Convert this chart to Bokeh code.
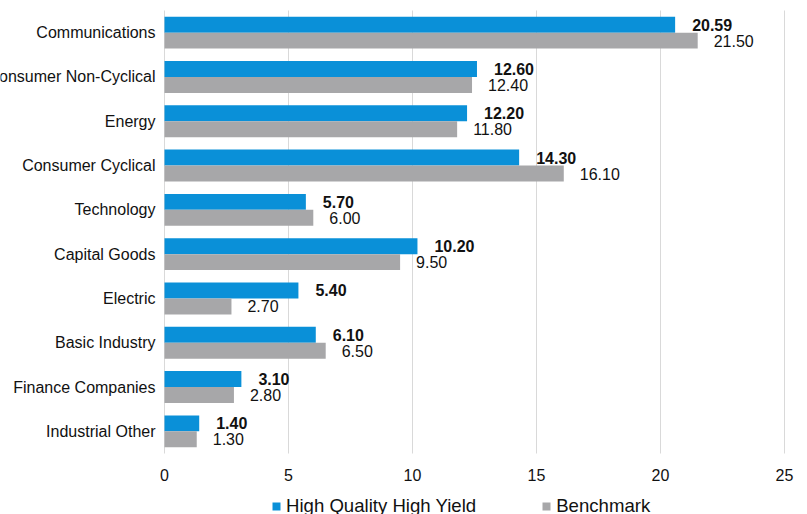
from bokeh.plotting import figure
from bokeh.models import (ColumnDataSource, Range1d, FixedTicker, Legend, LegendItem)
from bokeh.core.properties import value
from bokeh.transform import dodge
from bokeh.embed import file_html
from bokeh.resources import INLINE

categories = ["Communications", "Consumer Non-Cyclical", "Energy", "Consumer Cyclical",
              "Technology", "Capital Goods", "Electric", "Basic Industry",
              "Finance Companies", "Industrial Other"]
hq_values = [20.59, 12.60, 12.20, 14.30, 5.70, 10.20, 5.40, 6.10, 3.10, 1.40]
bench_values = [21.50, 12.40, 11.80, 16.10, 6.00, 9.50, 2.70, 6.50, 2.80, 1.30]
x_ticks = [0, 5, 10, 15, 20, 25]
series_names = ["High Quality High Yield", "Benchmark"]

BLUE = "#0A90D8"
GREY = "#A7A7A9"
GRID = "#D9D9D9"
FONT = "Liberation Sans"
TXT = "#111111"

W, H = 807, 514

n = len(categories)
ypos = [n - 1 - i for i in range(n)]  # first category at the top

source = ColumnDataSource(dict(
    cat=categories,
    y=ypos,
    hq=hq_values,
    bench=bench_values,
    hq_lbl=[f"{v:.2f}" for v in hq_values],
    bench_lbl=[f"{v:.2f}" for v in bench_values],
))

# screen layout of the plotting band (pixels)
band_left, band_right, band_top, band_bottom = 164, 784, 10, 453
xmax = x_ticks[-1]
px_x = (band_right - band_left) / xmax
px_y = (band_bottom - band_top) / n
x_range = Range1d(-band_left / px_x, xmax + (W - band_right) / px_x)
y_lo, y_hi = -0.5, n - 0.5
y_range = Range1d(y_lo - (H - band_bottom) / px_y, y_hi + band_top / px_y)

p = figure(width=W, height=H, output_backend="svg", toolbar_location=None,
           x_range=x_range, y_range=y_range,
           min_border_left=0, min_border_right=0, min_border_top=0, min_border_bottom=0)
p.outline_line_color = None
p.background_fill_color = "white"
p.border_fill_color = "white"

# vertical grid lines limited to the band
grid = p.xgrid[0]
grid.ticker = FixedTicker(ticks=x_ticks)
if "cross_bounds" in grid.properties():
    grid.cross_bounds = (y_lo, y_hi)
    grid.grid_line_color = GRID
    grid.grid_line_width = 1
else:
    grid.grid_line_color = None
    p.segment(x0=x_ticks, x1=x_ticks, y0=[y_lo] * len(x_ticks), y1=[y_hi] * len(x_ticks),
              line_color=GRID, line_width=1)
p.ygrid.grid_line_color = None

r_hq = p.hbar(y=dodge("y", 0.18), right="hq", left=0, height=0.36,
              fill_color=BLUE, line_color=None, source=source)
r_b = p.hbar(y=dodge("y", -0.18), right="bench", left=0, height=0.36,
             fill_color=GREY, line_color=None, source=source)

# x axis sits at the bottom of the band
xa = p.xaxis[0]
xa.fixed_location = y_lo
xa.ticker = FixedTicker(ticks=x_ticks)
xa.axis_line_color = None
xa.major_tick_line_color = None
xa.major_tick_out = 0
xa.major_tick_in = 0
xa.minor_tick_line_color = None
xa.minor_tick_out = 0
xa.major_label_standoff = 15
xa.major_label_text_font = FONT
xa.major_label_text_font_size = "16px"
xa.major_label_text_color = TXT
p.yaxis.visible = False

# category labels
p.text(x=0, y="y", text="cat", source=source, x_offset=-9,
       text_align="right", text_baseline="middle", text_font=value(FONT),
       text_font_size="16px", text_color=TXT)

# value labels
p.text(x="hq", y=dodge("y", 0.18), text="hq_lbl",
       source=source, x_offset=17, text_align="left", text_baseline="middle",
       text_font=value(FONT), text_font_size="16px", text_font_style="bold",
       text_color=TXT)
p.text(x="bench", y=dodge("y", -0.18), text="bench_lbl",
       source=source, x_offset=16, text_align="left", text_baseline="middle",
       text_font=value(FONT), text_font_size="16px", text_color=TXT)

legend = Legend(items=[LegendItem(label=series_names[0], renderers=[r_hq]),
                       LegendItem(label=series_names[1], renderers=[r_b])],
                orientation="horizontal", location=(271, -3),
                glyph_width=10, glyph_height=10, label_standoff=5, spacing=65,
                padding=0, margin=0, border_line_color=None, background_fill_alpha=0,
                label_text_font=FONT, label_text_font_size="18.6px", label_text_color=TXT)
p.add_layout(legend, "center")

open("out.html", "w").write(file_html(p, INLINE))
